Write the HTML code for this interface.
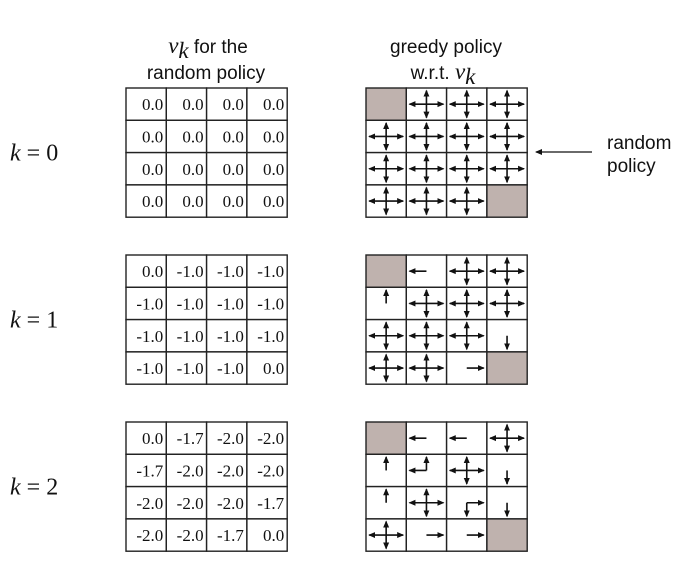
<!DOCTYPE html>
<html><head><meta charset="utf-8"><style>
html,body{margin:0;padding:0;background:#fff;width:691px;height:563px;overflow:hidden}
svg{display:block}
.hd{font-family:"Liberation Sans",sans-serif;font-size:19px;fill:#111}
.vk{font-family:"Liberation Serif",serif;font-style:italic;font-size:23px;fill:#111}
.kl{font-family:"Liberation Serif",serif;font-size:24px;fill:#111}
.cv{font-family:"Liberation Serif",serif;font-size:17px;fill:#111}
</style></head><body>
<svg id="fig" width="691" height="563" viewBox="0 0 691 563">
<defs><marker id="ah" markerWidth="7" markerHeight="7" refX="6" refY="3.5" orient="auto" markerUnits="userSpaceOnUse"><path d="M0,0.5 L7,3.5 L0,6.5 Z" fill="#111"/></marker></defs>
<g>
<text class="hd" x="208" y="53" text-anchor="middle"><tspan class="vk">v</tspan><tspan class="vk" font-size="15" dy="5">k</tspan><tspan dy="-5"> for the</tspan></text>
<text class="hd" x="206" y="79" text-anchor="middle">random policy</text>
</g>
<g>
<text class="hd" x="446" y="53" text-anchor="middle">greedy policy</text>
<text class="hd" x="443" y="79" text-anchor="middle">w.r.t. <tspan class="vk">v</tspan><tspan class="vk" font-size="15" dy="5">k</tspan></text>
</g>
<g>
<text class="hd" x="607" y="149">random</text>
<text class="hd" x="607" y="172">policy</text>
<line x1="592" y1="152" x2="536" y2="152" stroke="#111" stroke-width="1.3" marker-end="url(#ah)"/>
</g>
<g id="grids"></g>
</svg>
<script>
const iterations=["0","1","2"];
const values0=[["0.0","0.0","0.0","0.0"],["0.0","0.0","0.0","0.0"],["0.0","0.0","0.0","0.0"],["0.0","0.0","0.0","0.0"]];
const values1=[["0.0","-1.0","-1.0","-1.0"],["-1.0","-1.0","-1.0","-1.0"],["-1.0","-1.0","-1.0","-1.0"],["-1.0","-1.0","-1.0","0.0"]];
const values2=[["0.0","-1.7","-2.0","-2.0"],["-1.7","-2.0","-2.0","-2.0"],["-2.0","-2.0","-2.0","-1.7"],["-2.0","-2.0","-1.7","0.0"]];
const policy0=[["T","UDLR","UDLR","UDLR"],["UDLR","UDLR","UDLR","UDLR"],["UDLR","UDLR","UDLR","UDLR"],["UDLR","UDLR","UDLR","T"]];
const policy1=[["T","L","UDLR","UDLR"],["U","UDLR","UDLR","UDLR"],["UDLR","UDLR","UDLR","D"],["UDLR","UDLR","R","T"]];
const policy2=[["T","L","L","UDLR"],["U","UL","UDLR","D"],["U","UDLR","DR","D"],["UDLR","R","R","T"]];
const allValues=[values0,values1,values2];
const allPolicies=[policy0,policy1,policy2];
const NS="http://www.w3.org/2000/svg";
const g=document.getElementById('grids');
const cw=40.3,ch=32.3,vx=126,px=366,tops=[88,255,422];
function mk(t,a,p){const e=document.createElementNS(NS,t);for(const k in a)e.setAttribute(k,a[k]);(p||g).appendChild(e);return e;}
iterations.forEach((k,i)=>{
  const y0=tops[i];
  const lab=mk('text',{x:10,y:y0+ch*2+8,class:'kl'});
  
  
  lab.innerHTML='<tspan font-style="italic">k</tspan> = '+k;
  const vg=mk('g',{});
  
  
  const pg=mk('g',{});
  
  
  for(let r=0;r<4;r++)for(let c=0;c<4;c++){
    const x=vx+c*cw,y=y0+r*ch;
    const rc=mk('rect',{x:x,y:y,width:cw,height:ch,fill:'#fff',stroke:'#222','stroke-width':1.4},vg);
    
    
    const t=mk('text',{x:x+cw-3,y:y+ch/2+6,class:'cv','text-anchor':'end'},vg);
    
    
    t.textContent=allValues[i][r][c];
    const X=px+c*cw,a=allPolicies[i][r][c];
    const pc=mk('rect',{x:X,y:y,width:cw,height:ch,fill:a==='T'?'#bfb2ae':'#fff',stroke:'#222','stroke-width':1.4},pg);
    
    
    if(a!=='T'){
      const cx=X+cw/2,cy=y+ch/2;
      const d={U:[0,-13.5],D:[0,13.5],L:[-17,0],R:[17,0]};
      for(const ch2 of a){
        const ln=mk('line',{x1:cx,y1:cy,x2:cx+d[ch2][0],y2:cy+d[ch2][1],stroke:'#111','stroke-width':1.6,'marker-end':'url(#ah)'},pg);
        
        
      }
    }
  }
});
</script>
</body></html>
